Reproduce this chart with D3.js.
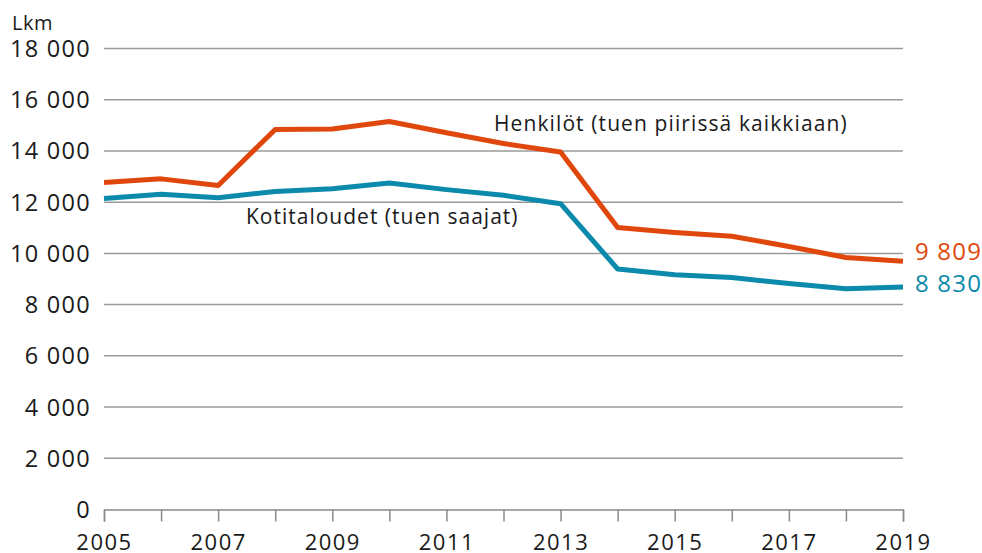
<!DOCTYPE html>
<html>
<head>
<meta charset="utf-8">
<script src="https://cdn.jsdelivr.net/npm/d3@7"></script>
<style>
  body { margin: 0; background: #fff; }
  text { font-family: "Open Sans", "Noto Sans", sans-serif; fill: #1a1a1a; }
</style>
</head>
<body>
<div id="chart"></div>
<script>
// Years on the x axis
var years = [2005, 2006, 2007, 2008, 2009, 2010, 2011, 2012, 2013, 2014, 2015, 2016, 2017, 2018, 2019];
// Henkilöt (tuen piirissä kaikkiaan)
var henkilot = [12770, 12910, 12650, 14840, 14860, 15150, 14710, 14290, 13960, 11010, 10820, 10670, 10270, 9840, 9690];
// Kotitaloudet (tuen saajat)
var kotitaloudet = [12140, 12310, 12170, 12420, 12520, 12750, 12490, 12270, 11940, 9390, 9170, 9060, 8820, 8620, 8690];
// y axis ticks
var y_ticks = [0, 2000, 4000, 6000, 8000, 10000, 12000, 14000, 16000, 18000];
// labels at the end of the lines
var end_labels = ["9 809", "8 830"];

var width = 982, height = 553;
var margin = {top: 48.5, right: 79, bottom: 43.5, left: 104};

var svg = d3.select("#chart").append("svg")
    .attr("width", width)
    .attr("height", height);

var x = d3.scaleLinear()
    .domain([2005, 2019])
    .range([margin.left, width - margin.right]);

var y = d3.scaleLinear()
    .domain([0, 18000])
    .range([height - margin.bottom, margin.top]);

//Format with a space as thousand separator
var fmt = function(v) { return d3.format(",")(v).replace(/,/g, " "); };

//Grid lines (not at 0, the axis goes there)
svg.append("g")
    .selectAll("line")
    .data(y_ticks.filter(function(d) { return d > 0; }))
    .enter().append("line")
    .attr("x1", x(2005))
    .attr("x2", x(2019))
    .attr("y1", function(d) { return y(d); })
    .attr("y2", function(d) { return y(d); })
    .attr("stroke", "#9a9a9a")
    .attr("stroke-width", 1.5);

//Y labels
svg.append("g")
    .selectAll("text")
    .data(y_ticks)
    .enter().append("text")
    .attr("x", 91)
    .attr("y", function(d) { return y(d); })
    .attr("dy", "0.36em")
    .attr("text-anchor", "end")
    .style("font-size", "23.5px")
    .style("letter-spacing", "1.3px")
    .text(fmt);

svg.append("text")
    .attr("x", 12)
    .attr("y", 30)
    .style("font-size", "20px")
    .style("letter-spacing", "0.5px")
    .text("Lkm");

//X axis
var xAxis = d3.axisBottom(x)
    .tickValues(years)
    .tickSize(12)
    .tickFormat(function(d) { return d % 2 == 1 ? d : ""; });

var gx = svg.append("g")
    .attr("transform", "translate(0," + y(0) + ")")
    .call(xAxis);
gx.select(".domain").attr("stroke", "#8a8a8a").attr("stroke-width", 1.5);
gx.selectAll(".tick line").attr("stroke", "#8a8a8a").attr("stroke-width", 1.5);
gx.selectAll(".tick text")
    .attr("y", 25)
    .attr("dy", "0.71em")
    .style("font-size", "22px")
    .style("letter-spacing", "1.5px")
    .style("font-family", "'Open Sans', 'Noto Sans', sans-serif")
    .attr("fill", "#1a1a1a");

//Lines
var line = d3.line()
    .x(function(d, i) { return x(years[i]); })
    .y(function(d) { return y(d); });

var series = [
    {values: henkilot, color: "#e0470c"},
    {values: kotitaloudet, color: "#0b8aab"}
];

svg.selectAll(".series")
    .data(series)
    .enter().append("path")
    .attr("class", "series")
    .attr("d", function(d) { return line(d.values); })
    .attr("fill", "none")
    .attr("stroke", function(d) { return d.color; })
    .attr("stroke-width", 5)
    .attr("stroke-linejoin", "round");

//Series names
svg.append("text")
    .attr("x", 494)
    .attr("y", 131)
    .style("font-size", "21px")
    .style("letter-spacing", "1.1px")
    .text("Henkilöt (tuen piirissä kaikkiaan)");

svg.append("text")
    .attr("x", 246)
    .attr("y", 224)
    .style("font-size", "21px")
    .style("letter-spacing", "1px")
    .text("Kotitaloudet (tuen saajat)");

//End labels
svg.append("text")
    .attr("x", 915)
    .attr("y", 260)
    .style("font-size", "24px")
    .style("letter-spacing", "1.2px")
    .style("fill", series[0].color)
    .text(end_labels[0]);

svg.append("text")
    .attr("x", 915)
    .attr("y", 292)
    .style("font-size", "24px")
    .style("letter-spacing", "1.2px")
    .style("fill", series[1].color)
    .text(end_labels[1]);
</script>
</body>
</html>
